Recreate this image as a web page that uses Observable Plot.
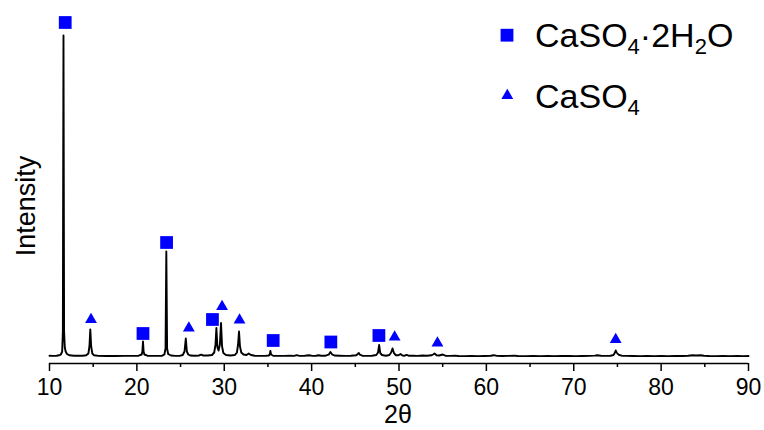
<!DOCTYPE html>
<html><head><meta charset="utf-8">
<script src="https://cdn.jsdelivr.net/npm/d3@7"></script>
<script src="https://cdn.jsdelivr.net/npm/@observablehq/plot@0.6"></script>
<style>html,body{margin:0;padding:0;background:#fff;} #chart{width:764px;height:430px;}</style>
</head><body><div id="chart"></div>
<script>
// XRD pattern (2θ in degrees, intensity in arbitrary units above background)
const twoTheta = [
  10, 10.4, 10.8, 11.1, 11.3, 11.45, 11.53, 11.6, 11.67, 11.75,
  11.85, 12.0, 12.3, 12.8, 13.3, 13.8, 14.2, 14.45, 14.57, 14.67,
  14.77, 14.9, 15.1, 15.6, 16.5, 17.5, 18.5, 19.5, 20.2, 20.55,
  20.63, 20.7, 20.77, 20.86, 21.2, 21.8, 22.4, 22.9, 23.15, 23.28,
  23.37, 23.46, 23.58, 23.9, 24.4, 24.9, 25.25, 25.45, 25.6, 25.72,
  25.88, 26.1, 26.6, 27.1, 27.35, 27.6, 28.1, 28.6, 28.85, 29.0,
  29.1, 29.22, 29.35, 29.5, 29.63, 29.75, 29.9, 30.2, 30.7, 31.2,
  31.45, 31.58, 31.69, 31.8, 31.95, 32.2, 32.55, 32.8, 33.05, 33.5,
  34.1, 34.7, 35.1, 35.2, 35.28, 35.36, 35.6, 36.2, 36.9, 37.5,
  38.0, 38.3, 38.6, 39.2, 39.7, 40.1, 40.5, 40.8, 41.1, 41.6,
  41.95, 42.15, 42.35, 42.6, 43.2, 43.8, 44.5, 45.1, 45.28, 45.4,
  45.52, 45.8, 46.3, 46.9, 47.4, 47.6, 47.73, 47.85, 48.05, 48.5,
  48.9, 49.1, 49.26, 49.42, 49.65, 49.95, 50.17, 50.4, 50.65, 50.86,
  51.1, 51.6, 52.1, 52.7, 53.2, 53.7, 53.9, 54.07, 54.3, 54.6,
  55.0, 55.3, 55.9, 56.4, 56.8, 57.5, 58.3, 59.0, 59.8, 60.5,
  60.86, 61.2, 61.8, 62.5, 63.2, 63.6, 64.5, 65.3, 66.2, 67.0,
  67.8, 68.6, 69.4, 70.2, 71.0, 71.8, 72.4, 72.7, 73.1, 73.6,
  74.2, 74.55, 74.72, 74.8, 74.9, 75.05, 75.2, 75.5, 76.0, 76.8,
  77.6, 78.4, 79.2, 80.0, 80.8, 81.6, 82.4, 83.1, 83.6, 84.0,
  84.5, 84.9, 85.5, 86.3, 87.1, 87.9, 88.7, 89.4, 90
];
const intensity = [
  0.8, 0.6, 0.8, 1.2, 2, 5, 25, 321, 25, 9,
  5, 2.5, 1.2, 0.8, 0.8, 0.8, 1.2, 3, 10, 27,
  10, 3, 1.2, 0.6, 0.5, 0.5, 0.6, 0.6, 0.8, 2,
  5, 15, 5, 2, 0.8, 0.6, 0.6, 0.8, 2, 8,
  105, 8, 2.5, 1, 0.6, 0.6, 1.5, 5, 18, 5,
  2, 1, 0.8, 1, 1.8, 1, 1, 1.5, 4, 12,
  28.5, 9, 6, 12, 33.5, 10, 3.5, 1.5, 1, 1.5,
  4, 12, 25, 10, 4, 2, 1.5, 3, 1.5, 0.8,
  0.6, 0.6, 1, 2, 5.5, 2, 0.8, 0.6, 0.6, 0.8,
  0.6, 1.3, 0.6, 0.8, 1.3, 0.6, 0.8, 1.3, 0.8, 0.8,
  1.8, 4.5, 2, 1, 0.8, 0.6, 0.8, 1.2, 2.5, 3.5,
  1.8, 0.8, 0.6, 0.8, 1.5, 4, 11.5, 3.5, 1.5, 0.8,
  1.5, 4, 8, 3.5, 1.2, 1.2, 2.5, 1, 0.8, 1.6,
  0.8, 0.8, 0.6, 1, 0.8, 1.2, 2, 3, 1.2, 1,
  2, 0.8, 0.6, 0.9, 0.5, 0.4, 0.5, 0.4, 0.5, 0.7,
  1.3, 0.6, 0.5, 0.6, 0.9, 0.5, 0.4, 0.5, 0.4, 0.5,
  0.4, 0.5, 0.6, 0.4, 0.5, 0.6, 0.9, 1.3, 0.7, 0.6,
  0.8, 1.5, 4, 6, 4, 2.5, 1.5, 0.8, 0.6, 0.5,
  0.4, 0.5, 0.4, 0.5, 0.4, 0.5, 0.5, 0.8, 1.3, 1.0,
  1.3, 0.7, 0.5, 0.4, 0.5, 0.4, 0.5, 0.4, 0.5
];

// Phase markers (2θ position and marker height)
const gypsumX = [11.8, 20.7, 23.4, 28.65, 35.6, 42.2, 47.7];
const gypsumY = [334, 23, 114, 37, 16, 14.5, 21];
const anhydriteX = [14.75, 25.95, 29.75, 31.75, 49.5, 54.4, 74.8];
const anhydriteY = [37, 28.5, 50, 36.5, 19.5, 13.5, 17];

const majorTicks = [10, 20, 30, 40, 50, 60, 70, 80, 90];
const minorTicks = [15, 25, 35, 45, 55, 65, 75, 85];
const xDomain = [10, 90];
const yDomain = [-7, 346];
const xTitle = "2θ";
const yTitle = "Intensity";

const pattern = twoTheta.map((x, i) => ({x, y: intensity[i]}));
const gypsum = gypsumX.map((x, i) => ({x, y: gypsumY[i]}));
const anhydrite = anhydriteX.map((x, i) => ({x, y: anhydriteY[i]}));

const blue = "#0000ff";
const font = "'Liberation Sans', Arial, Helvetica, sans-serif";

const svg = Plot.plot({
  width: 764,
  height: 430,
  marginLeft: 49,
  marginRight: 16,
  marginTop: 10,
  marginBottom: 67,
  style: {fontFamily: font, color: "black", background: "white", overflow: "visible"},
  x: {domain: xDomain, axis: null},
  y: {domain: yDomain, axis: null},
  marks: [
    Plot.line(pattern, {x: "x", y: "y", stroke: "black", strokeWidth: 1.9, strokeLinejoin: "round"}),
    Plot.dot(gypsum, {x: "x", y: "y", symbol: "square", r: 7.2, fill: blue, stroke: "none"}),
    Plot.dot(anhydrite, {x: "x", y: "y", symbol: "triangle", r: 4.4, fill: blue, stroke: "none"}),
    Plot.ruleY([yDomain[0]], {stroke: "black", strokeWidth: 1.5}),
    Plot.axisX({ticks: majorTicks, tickSize: 8, tickPadding: 7, fontSize: 23, strokeWidth: 1.5, label: null, tickFormat: d => String(d)}),
    Plot.axisX({ticks: minorTicks, tickSize: 4, strokeWidth: 1.5, label: null, tickFormat: () => ""})
  ]
});

const s = d3.select(svg);

// X axis title
s.append("text")
  .attr("x", 398)
  .attr("y", 423)
  .attr("text-anchor", "middle")
  .attr("font-family", font)
  .attr("font-size", 25)
  .attr("fill", "black")
  .text(xTitle);

// Y axis title
s.append("text")
  .attr("transform", "translate(26,206) rotate(-90)")
  .attr("text-anchor", "middle")
  .attr("dy", "0.35em")
  .attr("font-family", font)
  .attr("font-size", 27)
  .attr("fill", "black")
  .text(yTitle);

// Legend (top right)
const lg = s.append("g").attr("font-family", font).attr("fill", "black").attr("text-anchor", "start");
lg.append("rect").attr("x", 500.6).attr("y", 28.8).attr("width", 12.8).attr("height", 12.8).attr("fill", blue);
lg.append("path").attr("d", d3.symbol(d3.symbolTriangle, Math.PI * 4.4 * 4.4)()).attr("transform", "translate(507.3,95.5)").attr("fill", blue);

const t1 = lg.append("text").attr("x", 535).attr("y", 47).attr("font-size", 34).attr("text-anchor", "start");
t1.append("tspan").text("CaSO");
t1.append("tspan").attr("font-size", 22).attr("dy", 7).text("4");
t1.append("tspan").attr("dy", -7).text("·2H");
t1.append("tspan").attr("font-size", 22).attr("dy", 7).text("2");
t1.append("tspan").attr("dy", -7).text("O");

const t2 = lg.append("text").attr("x", 535).attr("y", 108).attr("font-size", 34).attr("text-anchor", "start");
t2.append("tspan").text("CaSO");
t2.append("tspan").attr("font-size", 22).attr("dy", 7).text("4");

document.getElementById("chart").appendChild(svg);
</script>
</body></html>
